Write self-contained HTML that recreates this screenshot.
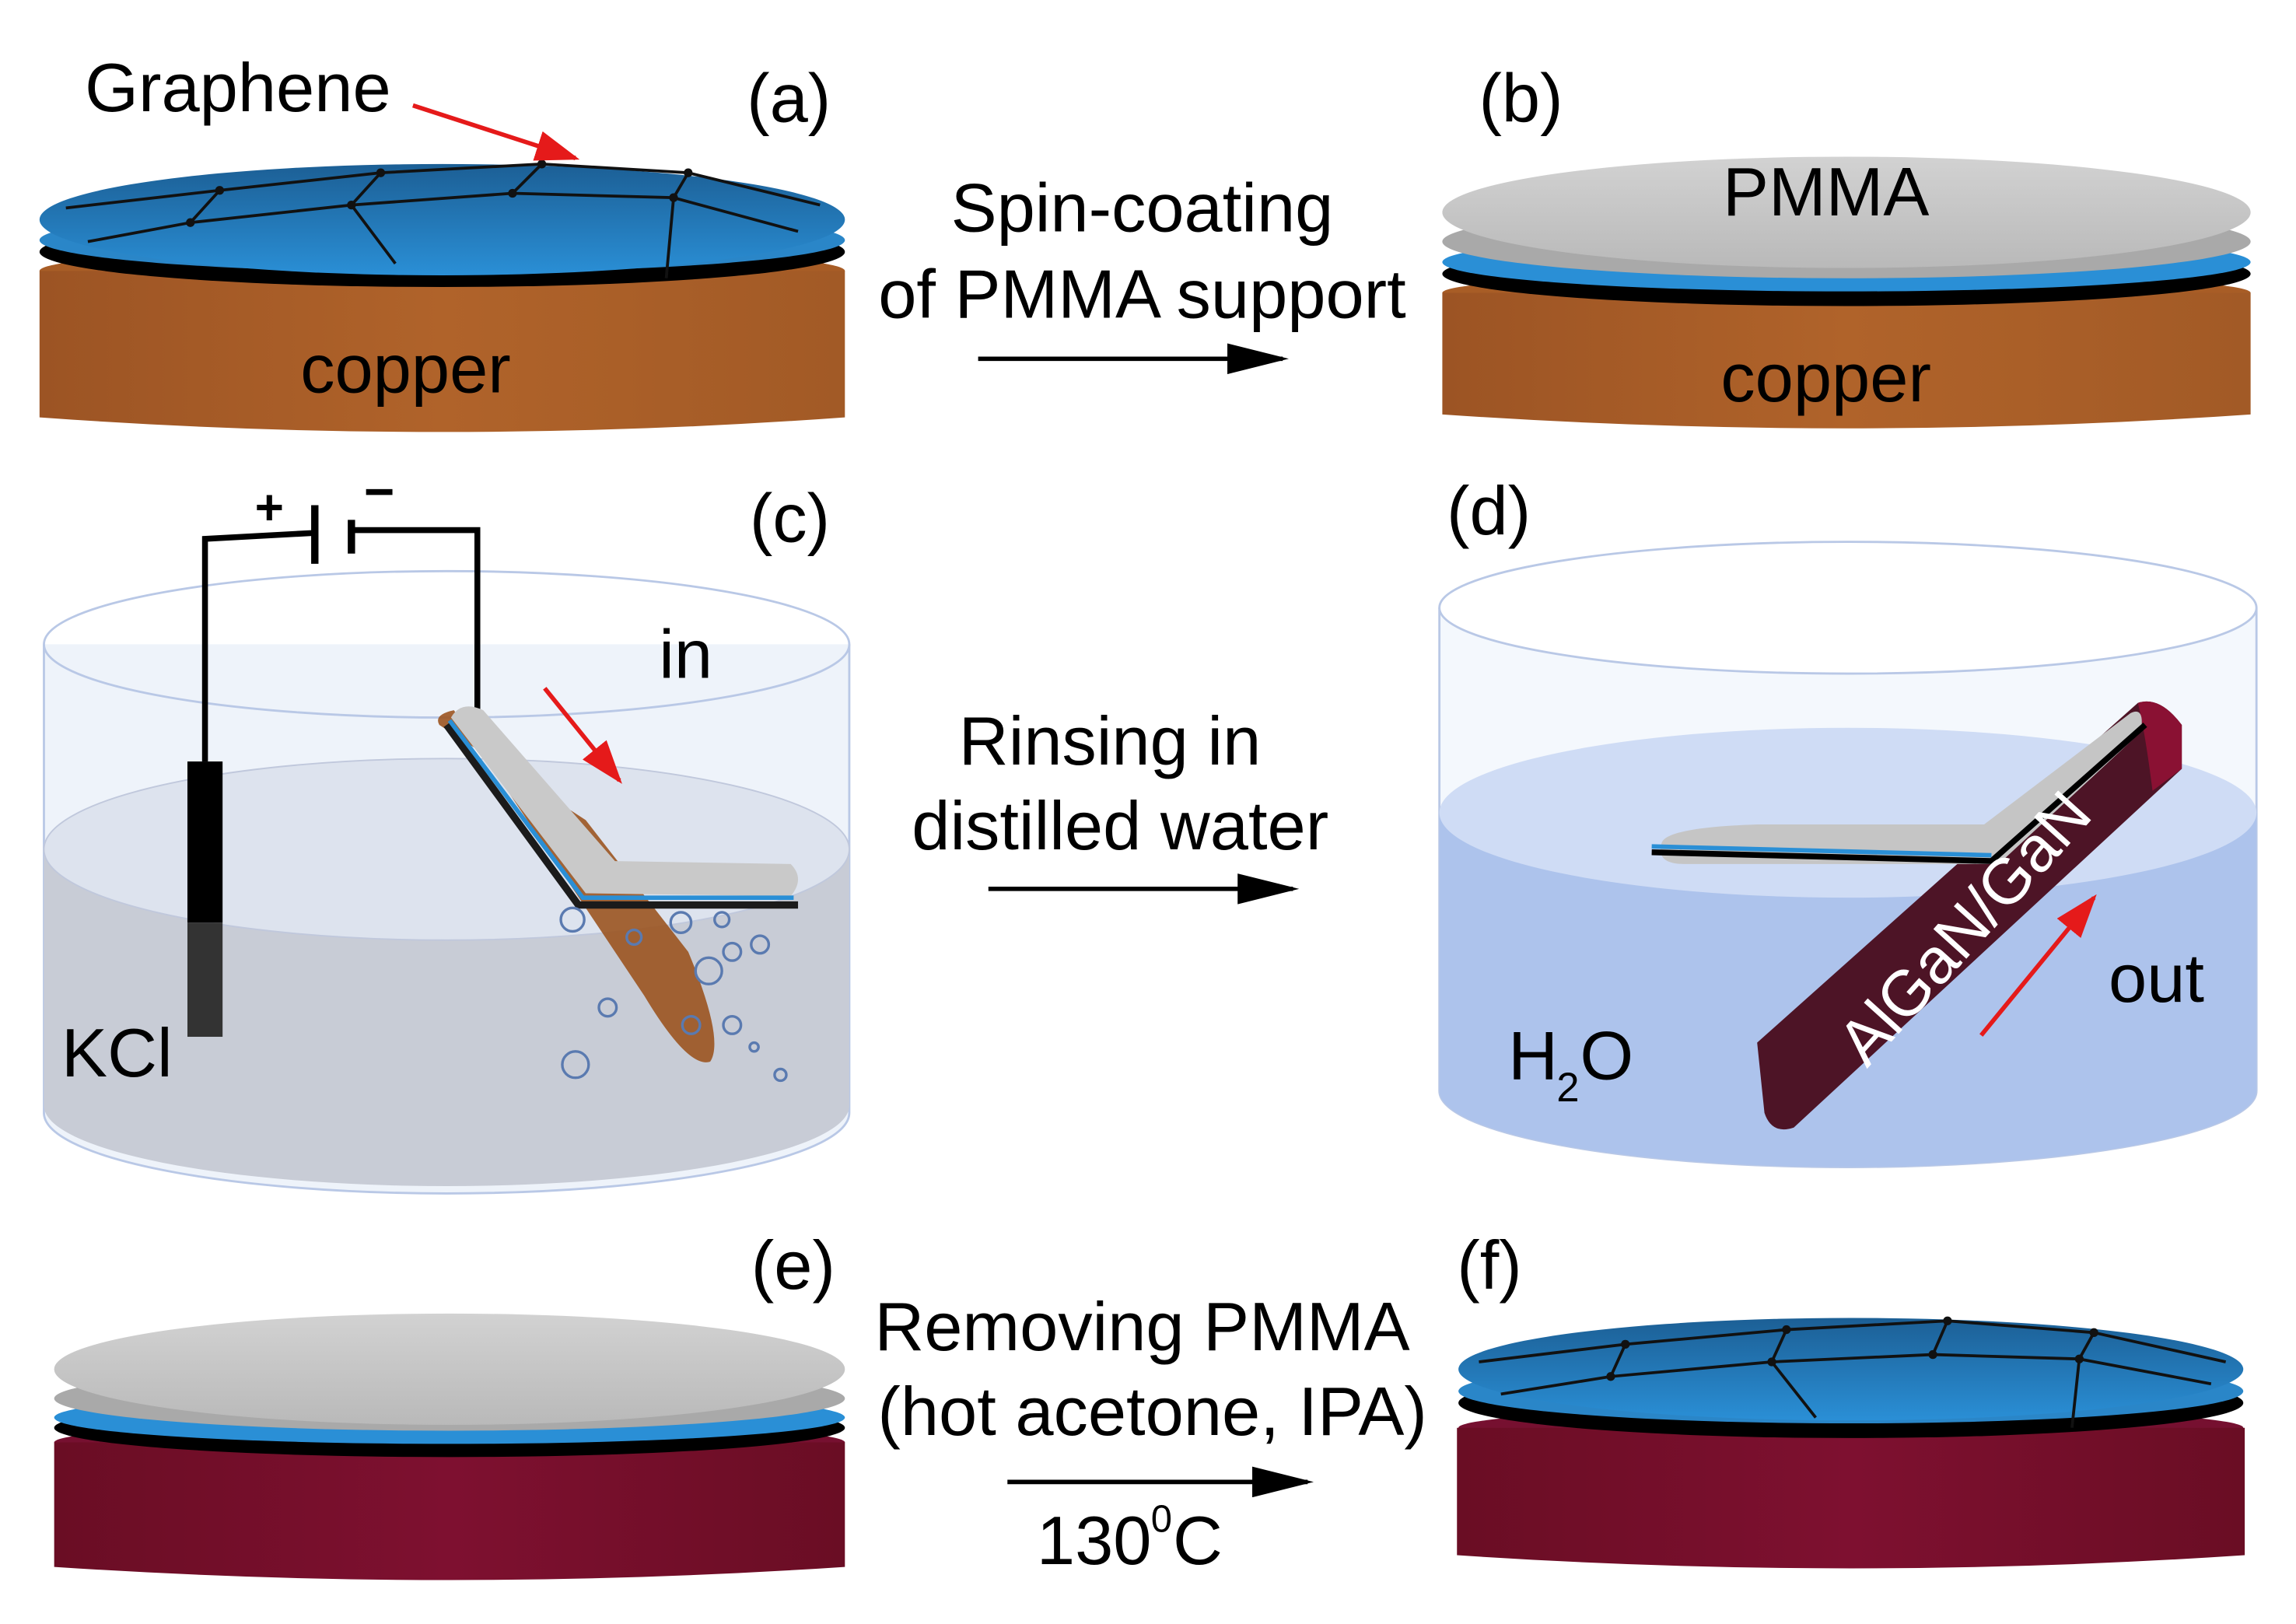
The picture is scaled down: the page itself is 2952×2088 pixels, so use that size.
<!DOCTYPE html>
<html><head><meta charset="utf-8"><style>html,body{margin:0;padding:0;background:#fff}svg{display:block}</style></head><body>
<svg width="2952" height="2088" viewBox="0 0 1568 1109" preserveAspectRatio="none" xmlns="http://www.w3.org/2000/svg" font-family="Liberation Sans, Arial, sans-serif">
<defs>
<linearGradient id="cu" x1="0" x2="1"><stop offset="0" stop-color="#9c5424"/><stop offset=".5" stop-color="#b0632a"/><stop offset="1" stop-color="#a25a26"/></linearGradient>
<linearGradient id="bg" x1="0" x2="1"><stop offset="0" stop-color="#6a0d24"/><stop offset=".5" stop-color="#7e1030"/><stop offset="1" stop-color="#6a0d24"/></linearGradient>
<linearGradient id="gr" x1="0" y1="0" x2="0" y2="1"><stop offset="0" stop-color="#1c5f95"/><stop offset="1" stop-color="#2a8fd6"/></linearGradient>
<linearGradient id="pm" x1="0" y1="0" x2="0" y2="1"><stop offset="0" stop-color="#d2d2d2"/><stop offset="1" stop-color="#b9b9b9"/></linearGradient>
<marker id="ab" viewBox="0 0 10 10" refX="9" refY="5" markerWidth="14" markerHeight="7" orient="auto" markerUnits="strokeWidth" preserveAspectRatio="none"><path d="M0,0L10,5L0,10z" fill="#000"/></marker>
<marker id="ar" viewBox="0 0 10 10" refX="9" refY="5" markerWidth="10" markerHeight="7" orient="auto" markerUnits="strokeWidth" preserveAspectRatio="none"><path d="M0,0L10,5L0,10z" fill="#e51a1a"/></marker>
</defs>
<g font-size="47">
<!-- (a) -->
<ellipse cx="302" cy="185" rx="275" ry="16" fill="#a85d26"/>
<path d="M27,185 L577,185 L577,285 Q302,305 27,285 Z" fill="url(#cu)"/>
<ellipse cx="302" cy="172" rx="275" ry="24" fill="#000"/>
<ellipse cx="302" cy="164" rx="275" ry="22" fill="#2a86c8"/>
<ellipse cx="302" cy="150" rx="275" ry="38" fill="url(#gr)"/>
<g stroke="#111" stroke-width="2" fill="none">
<path d="M45,142 L150,130 L260,118 L370,112 L470,118 L560,140"/>
<path d="M60,165 L130,152 L240,140 L350,132 L460,135 L545,158"/>
<path d="M150,130 L130,152 M260,118 L240,140 M370,112 L350,132 M470,118 L460,135 M240,140 L270,180 M460,135 L455,190"/>
</g>
<g fill="#111"><circle cx="150" cy="130" r="3"/><circle cx="260" cy="118" r="3"/><circle cx="370" cy="112" r="3"/><circle cx="470" cy="118" r="3"/><circle cx="130" cy="152" r="3"/><circle cx="240" cy="140" r="3"/><circle cx="350" cy="132" r="3"/><circle cx="460" cy="135" r="3"/></g>
<text x="58" y="76">Graphene</text>
<line x1="282" y1="72" x2="393" y2="108" stroke="#e51a1a" stroke-width="3" marker-end="url(#ar)"/>
<text x="510" y="83">(a)</text>
<text x="277" y="268" text-anchor="middle">copper</text>

<text x="780" y="158" text-anchor="middle">Spin-coating</text>
<text x="780" y="217" text-anchor="middle">of PMMA support</text>
<line x1="668" y1="245" x2="876" y2="245" stroke="#000" stroke-width="3" marker-end="url(#ab)"/>

<!-- (b) -->
<ellipse cx="1261" cy="200" rx="276" ry="14" fill="#a85d26"/>
<path d="M985,200 L1537,200 L1537,283 Q1261,302 985,283 Z" fill="url(#cu)"/>
<ellipse cx="1261" cy="187" rx="276" ry="22" fill="#000"/>
<ellipse cx="1261" cy="179" rx="276" ry="20" fill="#2a8fd6"/>
<ellipse cx="1261" cy="165" rx="276" ry="25" fill="#a9a9a9"/>
<ellipse cx="1261" cy="145" rx="276" ry="38" fill="url(#pm)"/>
<text x="1010" y="83">(b)</text>
<text x="1247" y="147" text-anchor="middle">PMMA</text>
<text x="1247" y="274" text-anchor="middle">copper</text>

<!-- (c) -->
<path d="M30,440 L30,760 A275,55 0 0 0 580,760 L580,440" fill="#eef3fa" stroke="#b9c8e6" stroke-width="1.5"/>
<path d="M30,580 L30,755 A275,55 0 0 0 580,755 L580,580 Z" fill="#c8ccd6"/>
<ellipse cx="305" cy="580" rx="275" ry="62" fill="#dde3ee" stroke="#c0c8dc"/>
<ellipse cx="305" cy="440" rx="275" ry="50" fill="none" stroke="#b9c8e6" stroke-width="1.5"/>
<text x="512" y="370">(c)</text>
<text x="450" y="463">in</text>
<g stroke="#000" stroke-width="4" fill="none"><path d="M140,520 L140,368 L213,364"/><path d="M240,362 L326,362 L326,485"/></g>
<line x1="215" y1="345" x2="215" y2="385" stroke="#000" stroke-width="5"/>
<line x1="240" y1="355" x2="240" y2="378" stroke="#000" stroke-width="5"/>
<text x="174" y="358" font-size="34" font-weight="bold">+</text>
<rect x="250" y="334" width="18" height="4" fill="#000"/>
<rect x="128" y="520" width="24" height="110" fill="#000"/>
<rect x="128" y="630" width="24" height="78" fill="#333"/>
<text x="42" y="735">KCl</text>
<line x1="372" y1="470" x2="423" y2="533" stroke="#e51a1a" stroke-width="3" marker-end="url(#ar)"/>
<path d="M300,495 Q296,488 310,485 L440,680 Q470,730 485,725 Q495,710 470,650 L400,560 Z" fill="#9b5420" opacity=".9"/>
<path d="M308,490 L400,610 L540,612 Q550,600 540,590 L420,588 L330,485 Q315,478 308,490 Z" fill="#c9c9c9"/>
<path d="M305,495 L395,618 L545,618" stroke="#1b1b1b" stroke-width="5" fill="none"/>
<path d="M307,492 L398,613 L542,613" stroke="#2a8fd6" stroke-width="3" fill="none"/>
<g fill="none" stroke="#5a7ab0" stroke-width="1.8">
<circle cx="391" cy="628" r="8"/><circle cx="465" cy="630" r="7"/><circle cx="493" cy="628" r="5"/><circle cx="484" cy="663" r="9"/><circle cx="500" cy="650" r="6"/><circle cx="393" cy="727" r="9"/><circle cx="415" cy="688" r="6"/><circle cx="472" cy="700" r="6"/><circle cx="500" cy="700" r="6"/><circle cx="519" cy="645" r="6"/><circle cx="533" cy="734" r="4"/><circle cx="515" cy="715" r="3"/><circle cx="433" cy="640" r="5"/></g>

<text x="758" y="522" text-anchor="middle">Rinsing in</text>
<text x="765" y="580" text-anchor="middle">distilled water</text>
<line x1="675" y1="607" x2="883" y2="607" stroke="#000" stroke-width="3" marker-end="url(#ab)"/>

<!-- (d) -->
<path d="M983,415 L983,745 A279,52 0 0 0 1541,745 L1541,415" fill="#f4f8fd" stroke="#b9c8e6" stroke-width="1.5"/>
<path d="M983,555 L983,745 A279,52 0 0 0 1541,745 L1541,555 Z" fill="#adc3ec"/>
<ellipse cx="1262" cy="555" rx="279" ry="58" fill="#cfdcf5"/>
<ellipse cx="1262" cy="415" rx="279" ry="45" fill="#fff" stroke="#b9c8e6" stroke-width="1.5"/>
<text x="988" y="365">(d)</text>
<path d="M1200,712 L1460,480 Q1475,475 1490,495 L1490,525 L1225,770 Q1210,775 1205,760 Z" fill="#4d1426"/>
<path d="M1460,480 Q1475,475 1490,495 L1490,525 L1470,540 Q1465,500 1460,480 Z" fill="#8a1133"/>
<path d="M1135,575 Q1140,565 1200,563 L1355,563 L1455,487 Q1465,482 1462,500 L1365,590 L1150,590 Q1130,590 1135,575 Z" fill="#c5c5c5"/>
<path d="M1128,582 L1360,588 L1465,495" stroke="#000" stroke-width="4" fill="none"/>
<path d="M1128,578 L1360,584" stroke="#2a8fd6" stroke-width="3" fill="none"/>
<text x="0" y="0" font-size="44" fill="#fff" transform="translate(1275,730) rotate(-48)">AlGaN/GaN</text>
<line x1="1353" y1="707" x2="1430" y2="613" stroke="#e51a1a" stroke-width="3" marker-end="url(#ar)"/>
<text x="1440" y="684">out</text>
<text x="1030" y="737">H</text><text x="1063" y="752" font-size="28">2</text><text x="1079" y="737">O</text>

<!-- (e) -->
<text x="513" y="880">(e)</text>
<ellipse cx="307" cy="985" rx="270" ry="14" fill="#761030"/>
<path d="M37,985 L577,985 L577,1070 Q307,1088 37,1070 Z" fill="url(#bg)"/>
<ellipse cx="307" cy="975" rx="270" ry="20" fill="#000"/>
<ellipse cx="307" cy="968" rx="270" ry="18" fill="#2a8fd6"/>
<ellipse cx="307" cy="955" rx="270" ry="22" fill="#a9a9a9"/>
<ellipse cx="307" cy="935" rx="270" ry="38" fill="url(#pm)"/>

<text x="780" y="922" text-anchor="middle">Removing PMMA</text>
<text x="787" y="980" text-anchor="middle">(hot acetone, IPA)</text>
<line x1="688" y1="1012" x2="893" y2="1012" stroke="#000" stroke-width="3" marker-end="url(#ab)"/>
<text x="708" y="1068">130</text><text x="786" y="1046" font-size="26">0</text><text x="801" y="1068">C</text>

<!-- (f) -->
<text x="995" y="880">(f)</text>
<ellipse cx="1264" cy="975" rx="268" ry="14" fill="#761030"/>
<path d="M995,975 L1533,975 L1533,1062 Q1264,1080 995,1062 Z" fill="url(#bg)"/>
<ellipse cx="1264" cy="958" rx="268" ry="24" fill="#000"/>
<ellipse cx="1264" cy="950" rx="268" ry="22" fill="#2a86c8"/>
<ellipse cx="1264" cy="935" rx="268" ry="35" fill="url(#gr)"/>
<g stroke="#111" stroke-width="2" fill="none">
<path d="M1010,930 L1110,918 L1220,908 L1330,902 L1430,910 L1520,930"/>
<path d="M1025,952 L1100,940 L1210,930 L1320,925 L1420,928 L1510,945"/>
<path d="M1110,918 L1100,940 M1220,908 L1210,930 M1330,902 L1320,925 M1430,910 L1420,928 M1210,930 L1240,968 M1420,928 L1415,975"/>
</g>
<g fill="#111"><circle cx="1110" cy="918" r="3"/><circle cx="1220" cy="908" r="3"/><circle cx="1330" cy="902" r="3"/><circle cx="1430" cy="910" r="3"/><circle cx="1100" cy="940" r="3"/><circle cx="1210" cy="930" r="3"/><circle cx="1320" cy="925" r="3"/><circle cx="1420" cy="928" r="3"/></g>
</g>
</svg>
</body></html>
